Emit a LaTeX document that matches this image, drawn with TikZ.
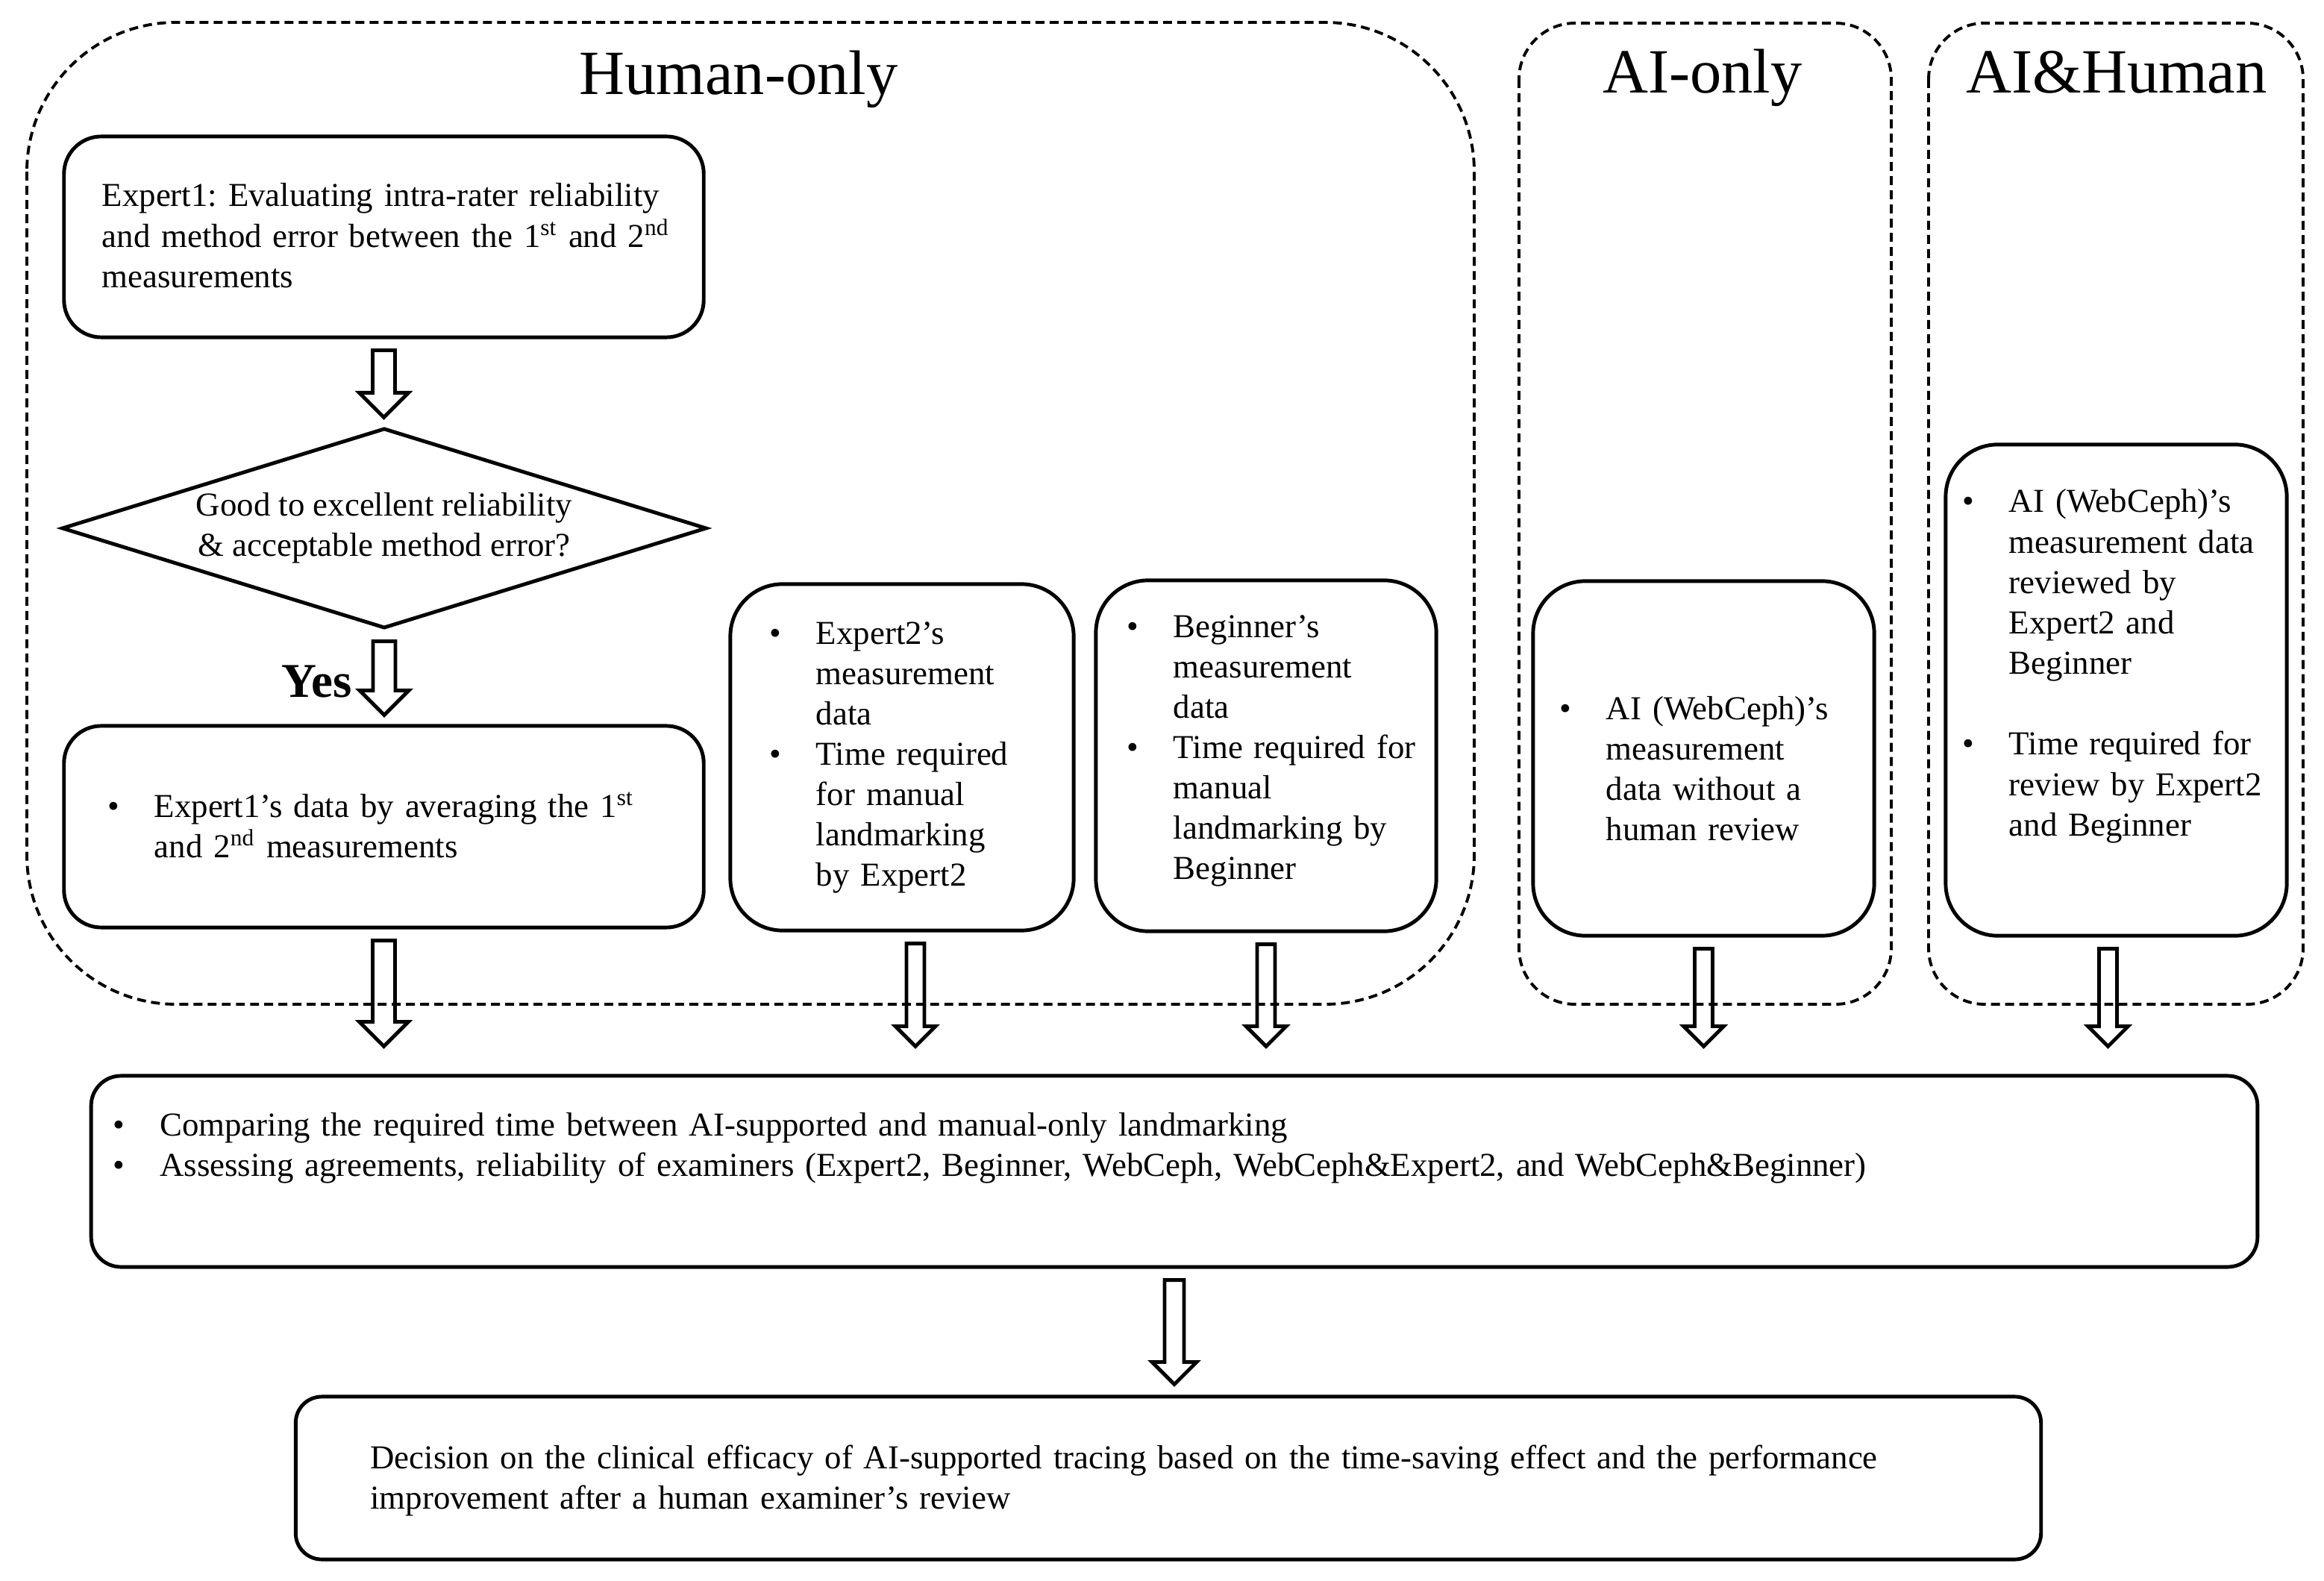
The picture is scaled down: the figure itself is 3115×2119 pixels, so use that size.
\documentclass[tikz,border=0pt]{standalone}
\usepackage{fontspec}
\setmainfont{Liberation Serif}
\usepackage{enumitem}
\usepackage{tikz}
\usetikzlibrary{shapes.geometric}
\usetikzlibrary{calc}
% hollow block arrow: shaft half width, head half width, from, to, gap at the tip
\newcommand{\blockarrow}[5]{%
  \path (#3) coordinate (bas);
  \path (bas |- #4) coordinate (bae);
  \draw[hollow] ($(bas)+(-#1,15)$) -- ($(bae)+(-#1,-#5-#2)$) -- ($(bae)+(-#2,-#5-#2)$)
    -- ($(bae)+(0,-#5)$) -- ($(bae)+(#2,-#5-#2)$) -- ($(bae)+(#1,-#5-#2)$) -- ($(bas)+(#1,15)$) -- cycle;}
\newenvironment{blist}[2][0pt]{\begin{itemize}[leftmargin=#2,labelsep=13.4pt,nosep,itemsep=#1]}{\end{itemize}}

\begin{document}
\frenchspacing
\begin{tikzpicture}[x=0.01cm,y=-0.01cm,font=\fontsize{12.75}{15.4}\selectfont]
    \tikzstyle{group} = [draw, line width=1.1pt, dash pattern=on 3.4pt off 2pt]
    \tikzstyle{title} = [font=\fontsize{24}{28}\selectfont, anchor=base, inner sep=0pt]
    \tikzstyle{box} = [rectangle, draw, line width=1.4pt, inner sep=0pt, rounded corners=0.7cm]
    \tikzstyle{decide} = [diamond, aspect=3.22, draw, line width=1.4pt, inner sep=0pt, minimum width=8.64cm, minimum height=2.68cm, align=center]
    \tikzstyle{hollow} = [line width=1.4pt, line join=miter]
    \useasboundingbox (0,0) rectangle (3115,2119);
        %%% groups %%%
        \draw[group, rounded corners=2cm] (36,30) rectangle (1976,1346);
        \draw[group, rounded corners=0.75cm] (2036,31) rectangle (2535,1346);
        \draw[group, rounded corners=0.75cm] (2585,31) rectangle (3087,1346);
        \node[title] (thuman) at (990,127) {Human-only};
        \node[title] (taionly) at (2282,125) {AI-only};
        \node[title] (taihuman) at (2837,125) {AI\&Human};
        %%% Human-only %%%
        \node[box, rounded corners=0.5cm, text width=8.57cm, text height=0.94cm, text depth=1.75cm] (e1eval) at (514.5,317.5)
            {\leftskip=0.51cm Expert1: Evaluating intra-rater reliability\newline and method error between the 1\textsuperscript{st} and 2\textsuperscript{nd}\newline measurements\par};
        \node[decide] (qual) at (515,708) {Good to excellent reliability\\\& acceptable method error?};
        \node[box, rounded corners=0.5cm, text width=8.57cm, text height=0.68cm, text depth=2.02cm] (e1data) at (514.5,1108)
            {\begin{blist}{1.21cm}\item Expert1's data by averaging the 1\textsuperscript{st}\newline and 2\textsuperscript{nd} measurements\end{blist}};
        \node[font=\bfseries\fontsize{18.5}{22}\selectfont, anchor=base east, inner sep=0pt] (yes) at (472,935) {Yes};
        \node[box, text width=4.6cm, text height=0.26cm, text depth=4.38cm] (e2data) at (1209,1015)
            {\begin{blist}{1.15cm}\item Expert2's\newline measurement\newline data
             \item Time required\newline for manual\newline landmarking\newline by Expert2\end{blist}};
        \node[box, text width=4.56cm, text height=0.22cm, text depth=4.48cm] (begdata) at (1697,1013)
            {\begin{blist}{1.04cm}\item Beginner's\newline measurement\newline data
             \item Time required for\newline manual\newline landmarking by\newline Beginner\end{blist}};
        %%% AI-only %%%
        \node[box, text width=4.57cm, text height=1.31cm, text depth=3.44cm] (aidata) at (2283.5,1016.5)
            {\begin{blist}{0.98cm}\item AI (WebCeph)'s\newline measurement\newline data without a\newline human review\end{blist}};
        %%% AI&Human %%%
        \node[box, text width=4.57cm, text height=0.37cm, text depth=6.21cm] (aihdata) at (2836.5,925)
            {\begin{blist}[15.4pt]{0.85cm}\item AI (WebCeph)'s\newline measurement data\newline reviewed by\newline Expert2 and\newline Beginner
             \item Time required for\newline review by Expert2\newline and Beginner\end{blist}};
        %%% results %%%
        \node[box, rounded corners=0.4cm, text width=29.02cm, text height=0.26cm, text depth=2.3cm] (compare) at (1574,1570)
            {\begin{blist}{0.92cm}\item Comparing the required time between AI-supported and manual-only landmarking
             \item Assessing agreements, reliability of examiners (Expert2, Beginner, WebCeph, WebCeph\&Expert2, and WebCeph\&Beginner)\end{blist}};
        \node[box, rounded corners=0.35cm, text width=23.38cm, text height=0.96cm, text depth=1.22cm] (decision) at (1566,1981)
            {\leftskip=1cm Decision on the clinical efficacy of AI-supported tracing based on the time-saving effect and the performance\newline improvement after a human examiner's review\par};
        %%% arrows
        \blockarrow{15}{33}{e1eval.south}{qual.north}{12}
        \blockarrow{15}{33}{qual.south}{e1data.north}{12}
        \blockarrow{15}{33}{e1data.south}{compare.north}{37}
        \blockarrow{12}{27}{[xshift=0.18cm]e2data.south}{compare.north}{37}
        \blockarrow{12}{27}{begdata.south}{compare.north}{37}
        \blockarrow{12}{27}{aidata.south}{compare.north}{37}
        \blockarrow{12}{27}{[xshift=-0.11cm]aihdata.south}{compare.north}{37}
        \blockarrow{13}{30}{compare.south}{decision.north}{14}
\end{tikzpicture}
\end{document}
